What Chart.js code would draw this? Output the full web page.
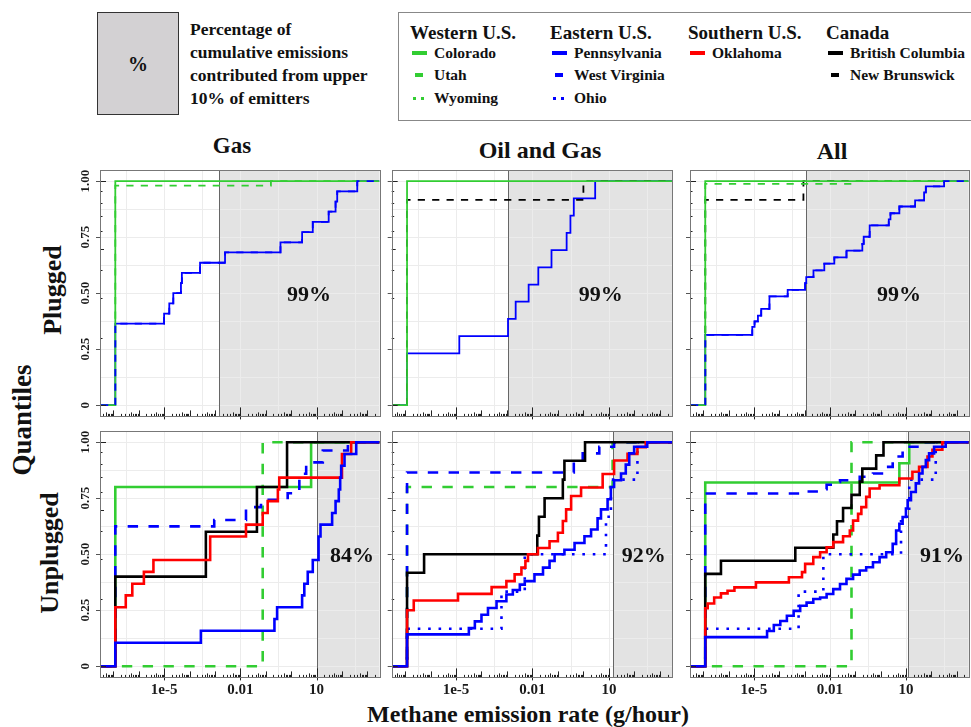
<!DOCTYPE html>
<html>
<head>
<meta charset="utf-8">
<script src="https://cdn.jsdelivr.net/npm/chart.js@4.4.1/dist/chart.umd.min.js"></script>
<style>
  body { margin: 0; background: #fff; }
  #page { position: relative; width: 971px; height: 727px; overflow: hidden;
          font-family: "Liberation Serif", "Times New Roman", serif; font-weight: bold; color: #111; }
  #page canvas { position: absolute; left: 0; top: 0; }
  .t { position: absolute; white-space: nowrap; line-height: 1; transform: translate(-50%, -50%); }
  .l { position: absolute; white-space: nowrap; line-height: 1; transform: translateY(-50%); }
  .rot { position: absolute; white-space: nowrap; line-height: 1; transform: translate(-50%, -50%) rotate(-90deg); }
  .sw { position: absolute; }
</style>
</head>
<body>
<div id="page">
  <!-- key for the shaded area -->
  <div style="position:absolute;left:97px;top:12px;width:80px;height:101px;background:#d3d1d3;border:1px solid #333;"></div>
  <div class="t" style="left:138px;top:64px;font-size:20px;">%</div>
  <div class="l" style="left:190px;top:30px;font-size:17.5px;">Percentage of</div>
  <div class="l" style="left:190px;top:53px;font-size:17.5px;">cumulative emissions</div>
  <div class="l" style="left:190px;top:76px;font-size:17.5px;">contributed from upper</div>
  <div class="l" style="left:190px;top:99px;font-size:17.5px;">10% of emitters</div>

  <!-- legend -->
  <div style="position:absolute;left:398px;top:12px;width:600px;height:107px;border:1px solid #888;"></div>
  <div id="legend"></div>

  <!-- titles -->
  <div class="t" style="left:232px;top:145px;font-size:23px;">Gas</div>
  <div class="t" style="left:540px;top:150px;font-size:24px;">Oil and Gas</div>
  <div class="t" style="left:832px;top:151px;font-size:24px;">All</div>
  <div class="rot" style="left:53px;top:290px;font-size:26px;">Plugged</div>
  <div class="rot" style="left:50px;top:553px;font-size:26px;">Unplugged</div>
  <div class="rot" style="left:22px;top:420px;font-size:27px;">Quantiles</div>
  <div class="t" style="left:528px;top:714px;font-size:24px;">Methane emission rate (g/hour)</div>
</div>

<script>
// wells with zero emissions sit at this rate on the log axis
const ZERO = 1.2e-7;
const X_MIN = 3.3e-8, X_MAX = 3000;
const Y_MIN = -0.05, Y_MAX = 1.05;

const xTickValues = [1e-5, 0.01, 10];
const xTickLabels = ['1e-5', '0.01', '10'];
const yTickValues = [0, 0.25, 0.5, 0.75, 1];
const yTickLabels = ['0', '0.25', '0.50', '0.75', '1.00'];
const gridX = [3.16e-7, 1e-5, 3.16e-4, 0.01, 0.316, 10, 316];
const gridY = [0, 0.125, 0.25, 0.375, 0.5, 0.625, 0.75, 0.875, 1];

// ---- Plugged, Gas
const gasPlugColorado = [[ZERO, 1]];
const gasPlugUtah = [[ZERO, 0.98], [0.16, 1]];
const gasPlugPenn = [[ZERO, 0.364], [1e-5, 0.409], [1.6e-5, 0.455], [2.3e-5, 0.5], [4.6e-5, 0.545],
  [5e-5, 0.591], [2.6e-4, 0.636], [2.5e-3, 0.682], [0.38, 0.727], [2.7, 0.773], [7.1, 0.818],
  [30, 0.864], [56, 0.909], [65, 0.955], [400, 1]];
const gasPlugWV = gasPlugPenn;

// ---- Plugged, Oil and Gas
const ogPlugColorado = [[ZERO, 1]];
const ogPlugNB = [[ZERO, 0.917], [1.0, 1]];
const ogPlugPenn = [[ZERO, 0.231], [1.35e-5, 0.308], [1.1e-3, 0.385], [2.2e-3, 0.462], [7.1e-3, 0.538],
  [0.017, 0.615], [0.056, 0.692], [0.22, 0.769], [0.31, 0.846], [0.42, 0.923], [2.9, 1]];

// ---- Plugged, All
const allPlugColorado = [[ZERO, 1]];
const allPlugUtah = [[ZERO, 0.988], [0.095, 1]];
const allPlugNB = [[ZERO, 0.917], [9e-4, 1]];
const allPlugPenn = [[ZERO, 0.314], [8.6e-6, 0.35], [1.06e-5, 0.374], [1.44e-5, 0.4], [1.94e-5, 0.43],
  [4.1e-5, 0.486], [2.15e-4, 0.515], [1.05e-3, 0.545], [1.16e-3, 0.572], [2.24e-3, 0.602], [6e-3, 0.632],
  [0.0149, 0.66], [0.045, 0.69], [0.19, 0.72], [0.215, 0.752], [0.37, 0.803], [2.1, 0.83], [2.45, 0.857],
  [5.5, 0.887], [23, 0.914], [52, 0.95], [61, 0.977], [320, 1]];
const allPlugWV = allPlugPenn;

// ---- Unplugged, Gas
const gasUnColorado = [[ZERO, 0.8], [6.1, 1]];
const gasUnUtah = [[0.076, 1]];
const gasUnWV = [[ZERO, 0.624], [9.4e-4, 0.653], [0.0167, 0.71], [0.065, 0.743], [0.73, 0.772],
  [2.1, 0.859], [3.9, 0.91], [17.6, 0.963], [171, 1]];
const gasUnBC = [[ZERO, 0.4], [4.4e-4, 0.6], [0.045, 0.8], [0.69, 1]];
const gasUnOkla = [[ZERO, 0.263], [3.1e-7, 0.316], [5.6e-7, 0.368], [1.6e-6, 0.421], [3.8e-6, 0.474],
  [6.5e-4, 0.579], [0.0167, 0.632], [0.076, 0.684], [0.119, 0.737], [0.3, 0.789], [0.34, 0.842],
  [100, 0.947], [230, 1]];
const gasUnPenn = [[ZERO, 0.105], [2.8e-4, 0.158], [0.22, 0.211], [0.28, 0.263], [2.7, 0.316], [3.3, 0.368],
  [4.5, 0.421], [7.1, 0.474], [12, 0.579], [14.3, 0.632], [41, 0.684], [56, 0.737], [75, 0.789],
  [85, 0.842], [93, 0.895], [126, 0.947], [364, 1]];

// ---- Unplugged, Oil and Gas
const ogUnUtah = [[ZERO, 0.8], [14, 1]];
const ogUnWV = [[ZERO, 0.865], [0.42, 0.92], [0.94, 0.95], [4.2, 0.98], [16, 1]];
const ogUnBC = [[ZERO, 0.417], [5.6e-7, 0.5], [0.0155, 0.583], [0.018, 0.667], [0.03, 0.75],
  [0.156, 0.833], [0.18, 0.917], [1.16, 1]];
const ogUnOkla = [[ZERO, 0.25], [2.2e-7, 0.293], [1.2e-5, 0.323], [2.5e-4, 0.353], [9.5e-4, 0.38],
  [2e-3, 0.41], [3.7e-3, 0.44], [5.3e-3, 0.47], [6.7e-3, 0.5], [0.0164, 0.528], [0.047, 0.558],
  [0.1, 0.596], [0.156, 0.648], [0.21, 0.7], [0.33, 0.76], [0.81, 0.798], [5.7, 0.858], [16, 0.918],
  [54, 0.948], [132, 0.978], [280, 1]];
const ogUnPenn = [[ZERO, 0.142], [3.2e-5, 0.17], [5.5e-5, 0.2], [1e-4, 0.23], [1.8e-4, 0.26], [3.9e-4, 0.29],
  [9.5e-4, 0.32], [1.7e-3, 0.34], [3.2e-3, 0.364], [5e-3, 0.38], [0.012, 0.41], [0.026, 0.44],
  [0.047, 0.47], [0.074, 0.5], [0.18, 0.52], [0.45, 0.55], [1.1, 0.58], [2, 0.61], [3.6, 0.66],
  [4.9, 0.7], [8.9, 0.745], [12, 0.8], [16, 0.83], [30, 0.86], [46, 0.9], [63, 0.95], [98, 0.98], [320, 1]];
const ogUnOhio = [[ZERO, 0.167], [6.1e-4, 0.333], [5e-3, 0.5], [7.7, 0.667], [12, 0.833], [132, 1]];

// ---- Unplugged, All
const allUnColorado = [[ZERO, 0.82], [5.5, 0.906], [13.5, 1]];
const allUnUtah = [[0.071, 1]];
const allUnWV = [[ZERO, 0.771], [9.1e-4, 0.78], [4.1e-3, 0.79], [7.4e-3, 0.81], [0.0135, 0.823],
  [0.025, 0.83], [0.15, 0.846], [0.5, 0.86], [1.66, 0.89], [3, 0.936], [7.4, 0.96], [10, 0.98], [61, 1]];
const allUnBC = [[ZERO, 0.412], [5e-7, 0.471], [4.3e-4, 0.529], [0.0136, 0.588], [0.019, 0.647],
  [0.033, 0.706], [0.071, 0.765], [0.15, 0.824], [0.19, 0.882], [0.67, 0.941], [1.3, 1]];
const allUnOkla = [[ZERO, 0.259], [1.5e-7, 0.28], [2.7e-7, 0.307], [5e-7, 0.325], [9.1e-7, 0.337],
  [1.7e-6, 0.352], [1.2e-5, 0.374], [2.4e-4, 0.397], [7.9e-4, 0.42], [1.05e-3, 0.457], [2.2e-3, 0.487],
  [4.1e-3, 0.509], [7.4e-3, 0.531], [0.0135, 0.554], [0.033, 0.58], [0.061, 0.606], [0.082, 0.65],
  [0.129, 0.68], [0.174, 0.71], [0.27, 0.756], [0.37, 0.793], [0.91, 0.808], [5.5, 0.838], [18, 0.868],
  [33, 0.89], [71, 0.936], [111, 0.966], [274, 1]];
const allUnPenn = [[ZERO, 0.13], [3.3e-5, 0.157], [6.1e-5, 0.184], [1.1e-4, 0.202], [2e-4, 0.225],
  [3.7e-4, 0.247], [6.7e-4, 0.27], [1.2e-3, 0.284], [2.2e-3, 0.3], [4.1e-3, 0.307], [7.4e-3, 0.322],
  [0.0135, 0.344], [0.025, 0.367], [0.045, 0.39], [0.082, 0.409], [0.15, 0.427], [0.27, 0.442],
  [0.5, 0.464], [0.91, 0.487], [1.66, 0.509], [3, 0.546], [4.1, 0.606], [5.5, 0.636], [7.4, 0.666],
  [10, 0.704], [11.7, 0.741], [15.8, 0.778], [24.5, 0.816], [33, 0.86], [45, 0.89], [61, 0.92],
  [82, 0.95], [129, 0.98], [370, 1]];
const allUnOhio = [[ZERO, 0.167], [5.8e-4, 0.333], [5.5e-3, 0.5], [6.4, 0.667], [13.5, 0.833], [150, 1]];

// emission rate above which the top 10% of emitters sit, per panel
const shadeFrom = [1.5e-3, 1.15e-3, 1.15e-3, 10.8, 14.5, 12.4];
const shareLabels = ['99%', '99%', '99%', '84%', '92%', '91%'];

const GREEN = '#32cd32', BLUE = '#0000ff', RED = '#ff0000', BLACK = '#000000';
const styles = {
  Colorado: { color: GREEN, dash: 'solid' },
  Utah: { color: GREEN, dash: 'dashed' },
  Wyoming: { color: GREEN, dash: 'dotted' },
  Pennsylvania: { color: BLUE, dash: 'solid' },
  'West Virginia': { color: BLUE, dash: 'dashed' },
  Ohio: { color: BLUE, dash: 'dotted' },
  Oklahoma: { color: RED, dash: 'solid' },
  'British Columbia': { color: BLACK, dash: 'solid' },
  'New Brunswick': { color: BLACK, dash: 'dashed' }
};

// series listed bottom layer first
const panels = [
  { col: 0, row: 0, series: [['Pennsylvania', gasPlugPenn], ['Colorado', gasPlugColorado], ['Utah', gasPlugUtah], ['West Virginia', gasPlugWV]] },
  { col: 1, row: 0, series: [['Pennsylvania', ogPlugPenn], ['New Brunswick', ogPlugNB], ['Colorado', ogPlugColorado]] },
  { col: 2, row: 0, series: [['Pennsylvania', allPlugPenn], ['New Brunswick', allPlugNB], ['Colorado', allPlugColorado], ['Utah', allPlugUtah], ['West Virginia', allPlugWV]] },
  { col: 0, row: 1, series: [['Colorado', gasUnColorado], ['Utah', gasUnUtah], ['West Virginia', gasUnWV], ['British Columbia', gasUnBC], ['Oklahoma', gasUnOkla], ['Pennsylvania', gasUnPenn]] },
  { col: 1, row: 1, series: [['Utah', ogUnUtah], ['West Virginia', ogUnWV], ['Ohio', ogUnOhio], ['British Columbia', ogUnBC], ['Oklahoma', ogUnOkla], ['Pennsylvania', ogUnPenn]] },
  { col: 2, row: 1, series: [['Colorado', allUnColorado], ['Utah', allUnUtah], ['West Virginia', allUnWV], ['Ohio', allUnOhio], ['British Columbia', allUnBC], ['Oklahoma', allUnOkla], ['Pennsylvania', allUnPenn]] }
];

// panel rectangles on the page
const colBox = [{ l: 100, r: 379.5 }, { l: 391.7, r: 672 }, { l: 690, r: 968.7 }];
const rowBox = [{ t: 170, b: 416.4 }, { t: 431, b: 677.4 }];
const W = 971, H = 727;

const FONT = '"Liberation Serif", "Times New Roman", serif';

const decor = {
  id: 'decor',
  beforeDatasetsDraw(chart, args, o) {
    const { ctx, chartArea: a, scales: { x, y } } = chart;
    ctx.save();
    ctx.fillStyle = '#fff';
    ctx.fillRect(a.left, a.top, a.right - a.left, a.bottom - a.top);
    const sx = x.getPixelForValue(o.shade);
    ctx.fillStyle = '#e3e3e3';
    ctx.fillRect(sx, a.top, a.right - sx, a.bottom - a.top);
    ctx.strokeStyle = '#ececec';
    ctx.lineWidth = 1;
    ctx.beginPath();
    gridX.forEach(v => { const p = Math.round(x.getPixelForValue(v)) + 0.5; ctx.moveTo(p, a.top); ctx.lineTo(p, a.bottom); });
    gridY.forEach(v => { const p = Math.round(y.getPixelForValue(v)) + 0.5; ctx.moveTo(a.left, p); ctx.lineTo(a.right, p); });
    ctx.stroke();
    ctx.strokeStyle = '#666';
    ctx.beginPath();
    ctx.moveTo(Math.round(sx) + 0.5, a.top); ctx.lineTo(Math.round(sx) + 0.5, a.bottom);
    ctx.stroke();
    ctx.restore();
  },
  afterDatasetsDraw(chart, args, o) {
    const { ctx, chartArea: a, scales: { x, y } } = chart;
    ctx.save();
    // log ticks along the bottom and left edges
    ctx.strokeStyle = '#222';
    ctx.lineWidth = 1;
    ctx.beginPath();
    for (let k = -8; k <= 3; k++) {
      for (let m = 1; m <= 9; m++) {
        const v = m * Math.pow(10, k);
        if (v < X_MIN || v > X_MAX) continue;
        const p = Math.round(x.getPixelForValue(v)) + 0.5;
        const len = m === 1 ? 6 : (m === 5 ? 4 : 2.5);
        ctx.moveTo(p, a.bottom); ctx.lineTo(p, a.bottom - len);
      }
    }
    xTickValues.forEach(v => {
      const p = Math.round(x.getPixelForValue(v)) + 0.5;
      ctx.moveTo(p, a.bottom + 3); ctx.lineTo(p, a.bottom - 9);
    });
    for (let m = 1; m <= 10; m++) {
      const p = Math.round(y.getPixelForValue(Math.log10(m))) + 0.5;
      const len = (m === 1 || m === 10) ? 6 : (m === 5 ? 4 : 2.5);
      ctx.moveTo(a.left, p); ctx.lineTo(a.left + len, p);
    }
    ctx.stroke();
    ctx.strokeStyle = '#555';
    ctx.beginPath();
    yTickValues.forEach(v => {
      const p = Math.round(y.getPixelForValue(v)) + 0.5;
      ctx.moveTo(a.left - 4, p); ctx.lineTo(a.left, p);
    });
    ctx.stroke();
    // panel frame
    ctx.strokeStyle = '#777';
    ctx.strokeRect(Math.round(a.left) + 0.5, Math.round(a.top) + 0.5, Math.round(a.right - a.left), Math.round(a.bottom - a.top));
    // tick labels
    ctx.fillStyle = '#1a1a1a';
    if (o.showY) {
      ctx.font = 'bold 13px ' + FONT;
      ctx.textAlign = 'center';
      ctx.textBaseline = 'middle';
      yTickValues.forEach((v, i) => {
        ctx.save();
        ctx.translate(a.left - 14, y.getPixelForValue(v));
        ctx.rotate(-Math.PI / 2);
        ctx.fillText(yTickLabels[i], 0, 0);
        ctx.restore();
      });
    }
    if (o.showX) {
      ctx.font = 'bold 15px ' + FONT;
      ctx.textAlign = 'center';
      ctx.textBaseline = 'middle';
      xTickValues.forEach((v, i) => ctx.fillText(xTickLabels[i], x.getPixelForValue(v), a.bottom + 13));
    }
    // share of emissions from the top 10%
    ctx.fillStyle = '#111';
    ctx.font = 'bold 22px ' + FONT;
    ctx.textAlign = 'center';
    ctx.textBaseline = 'middle';
    ctx.fillText(o.label, a.left + o.labelDx, a.top + 125);
    ctx.restore();
  }
};

const page = document.getElementById('page');

panels.forEach((p, idx) => {
  const c = colBox[p.col], r = rowBox[p.row];
  const lw = p.row === 0 ? 1.8 : 2.6;
  const n = p.series.length;
  const datasets = p.series.map(([name, pts], i) => {
    const st = styles[name];
    const data = [{ x: X_MIN, y: 0 }].concat(pts.map(q => ({ x: q[0], y: q[1] })));
    data.push({ x: X_MAX, y: pts[pts.length - 1][1] });
    let dash = [];
    if (st.dash === 'dashed') dash = [4 * lw, 4 * lw];
    if (st.dash === 'dotted') dash = [lw, 3 * lw];
    return {
      label: name, data,
      borderColor: st.color, borderWidth: lw, borderDash: dash,
      stepped: 'before', pointRadius: 0, fill: false,
      order: n - i
    };
  });
  const cv = document.createElement('canvas');
  cv.width = W; cv.height = H;
  page.appendChild(cv);
  new Chart(cv, {
    type: 'line',
    data: { datasets },
    options: {
      responsive: false, animation: false, devicePixelRatio: 1, events: [],
      layout: { padding: { left: c.l, top: r.t, right: W - c.r, bottom: H - r.b } },
      plugins: {
        legend: { display: false }, tooltip: { enabled: false },
        decor: {
          shade: shadeFrom[idx], label: shareLabels[idx],
          labelDx: p.row === 0 ? 209 : 252,
          showY: p.col === 0, showX: p.row === 1
        }
      },
      scales: {
        x: { type: 'logarithmic', min: X_MIN, max: X_MAX, display: false },
        y: { type: 'linear', min: Y_MIN, max: Y_MAX, display: false }
      }
    },
    plugins: [decor]
  });
});

// legend
const legendGroups = [
  { title: 'Western U.S.', x: 410, items: ['Colorado', 'Utah', 'Wyoming'] },
  { title: 'Eastern U.S.', x: 550, items: ['Pennsylvania', 'West Virginia', 'Ohio'] },
  { title: 'Southern U.S.', x: 688, items: ['Oklahoma'] },
  { title: 'Canada', x: 826, items: ['British Columbia', 'New Brunswick'] }
];
const legendRows = [53, 75, 98];
const lg = document.getElementById('legend');
let html = '';
legendGroups.forEach(g => {
  html += `<div class="l" style="left:${g.x}px;top:32px;font-size:19px;">${g.title}</div>`;
  g.items.forEach((name, i) => {
    const st = styles[name], y = legendRows[i], sx = g.x + 2;
    if (st.dash === 'solid') {
      html += `<div class="sw" style="left:${sx}px;top:${y - 2}px;width:15px;height:4px;background:${st.color}"></div>`;
    } else if (st.dash === 'dashed') {
      html += `<div class="sw" style="left:${sx + 3}px;top:${y - 2}px;width:8px;height:4px;background:${st.color}"></div>`;
    } else {
      html += `<div class="sw" style="left:${sx + 1}px;top:${y - 1}px;width:3px;height:3px;background:${st.color}"></div>`;
      html += `<div class="sw" style="left:${sx + 9}px;top:${y - 1}px;width:3px;height:3px;background:${st.color}"></div>`;
    }
    html += `<div class="l" style="left:${g.x + 24}px;top:${y}px;font-size:15.5px;">${name}</div>`;
  });
});
lg.innerHTML = html;
</script>
</body>
</html>
